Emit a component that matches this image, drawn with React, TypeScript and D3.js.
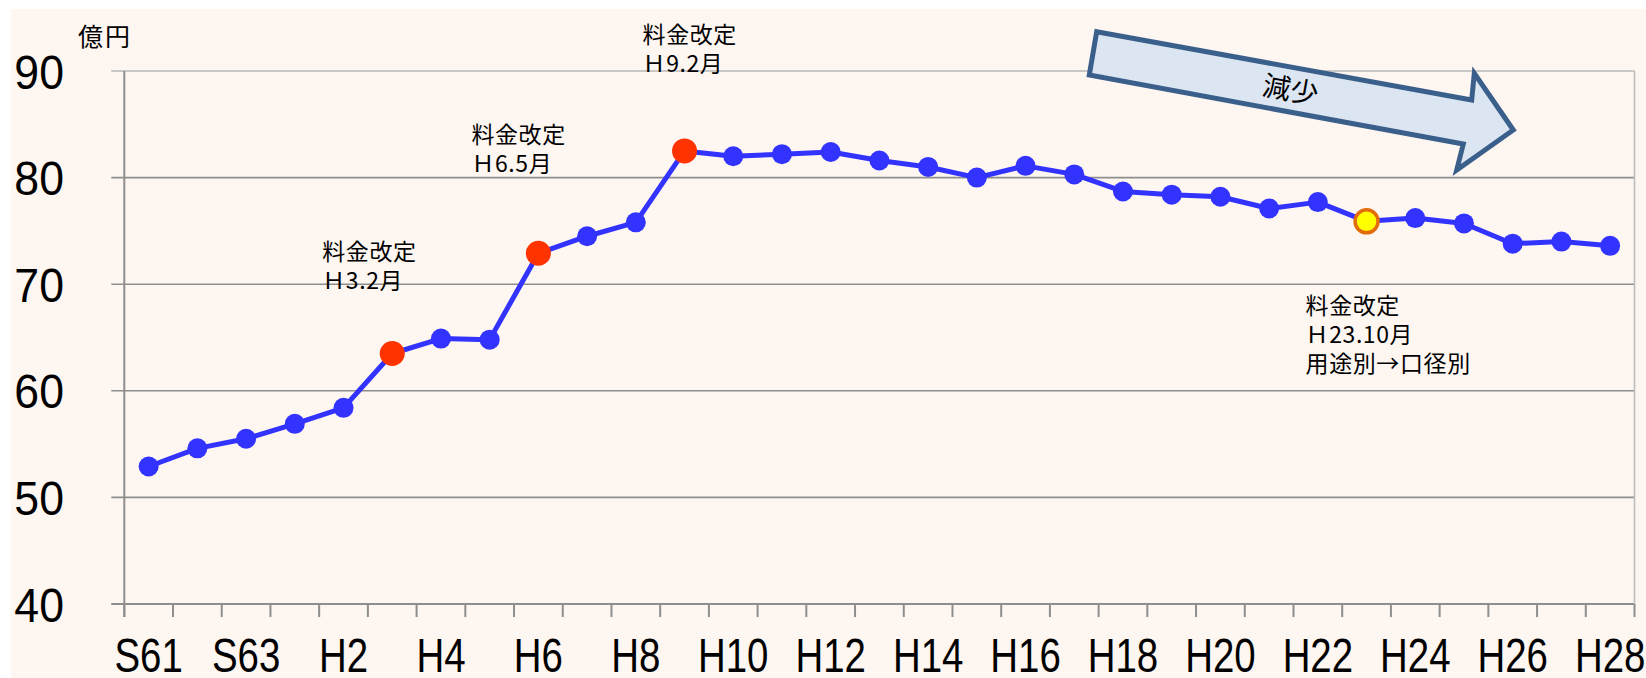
import React from "react";
import * as d3 from "d3";

const categories = [
  "S61", "S62", "S63", "H1", "H2", "H3", "H4", "H5", "H6", "H7", "H8", "H9", "H10",
  "H11", "H12", "H13", "H14", "H15", "H16", "H17", "H18", "H19", "H20", "H21", "H22",
  "H23", "H24", "H25", "H26", "H27", "H28",
];
const revenue = [
  52.9, 54.6, 55.5, 56.9, 58.4, 63.5, 64.9, 64.8, 72.9, 74.5, 75.8, 82.5, 82.0,
  82.2, 82.4, 81.6, 81.0, 80.0, 81.1, 80.3, 78.7, 78.4, 78.2, 77.1, 77.7,
  75.9, 76.2, 75.7, 73.8, 74.0, 73.6,
];
const yTicks = [40, 50, 60, 70, 80, 90];
const xLabelCats = categories.filter((_, i) => i % 2 === 0);
const redRevisions = ["H3", "H6", "H9"];
const yellowRevisions = ["H23"];
const annotations = [
  { cat: "H3", lines: ["料金改定", "Ｈ3.2月"], dx: -70, dy: -93 },
  { cat: "H6", lines: ["料金改定", "Ｈ6.5月"], dx: -67, dy: -110 },
  { cat: "H9", lines: ["料金改定", "Ｈ9.2月"], dx: -42, dy: -108 },
  { cat: "H23", lines: ["料金改定", "Ｈ23.10月", "用途別→口径別"], dx: -61, dy: 93 },
];
const unitLabel = "億円";
const arrowLabel = "減少";

const W = 1646;
const H = 678;
const left = 124.3;
const right = 1634.5;
const top = 71;
const bottom = 604;

export default function App() {
  const x = d3.scaleBand<string>().domain(categories).range([left, right]).padding(0);
  const y = d3.scaleLinear().domain([40, 90]).range([bottom, top]);
  const cx = (c: string) => (x(c) as number) + x.bandwidth() / 2;
  const line = d3
    .line<number>()
    .x((_, i) => cx(categories[i]))
    .y((d) => y(d));

  const arrowPts: [number, number][] = [
    [1096.7, 31.7],
    [1471.7, 100],
    [1474.3, 73.3],
    [1513.3, 130],
    [1456.7, 170],
    [1463.3, 144],
    [1089.3, 75],
  ];
  const angle = (Math.atan2(100 - 31.7, 1471.7 - 1096.7) * 180) / Math.PI;

  const boundaries = d3.range(categories.length + 1).map((i) => left + i * x.bandwidth());
  const cjk = "'Noto Sans CJK JP', 'Noto Sans CJK SC', sans-serif";
  const latin = "'Liberation Sans', Arial, sans-serif";

  return (
    <svg
      width={W}
      height={H}
      style={{ position: "absolute", left: 0, top: 0, display: "block" }}
    >
      <rect x={0} y={0} width={W} height={H} fill="#ffffff" />
      <rect x={11} y={9} width={W - 11} height={H - 9} fill="#fdf6f1" />

      {/* gridlines */}
      {yTicks.map((t) => (
        <line
          key={t}
          x1={left - 13}
          x2={right}
          y1={y(t)}
          y2={y(t)}
          stroke={t === 90 ? "#b8b8b8" : "#8e8e8e"}
          strokeWidth={t === 40 ? 2 : 1.6}
        />
      ))}
      {/* right border */}
      <line x1={right} x2={right} y1={top} y2={bottom} stroke="#bdbdbd" strokeWidth={1.6} />
      {/* left axis */}
      <line x1={left} x2={left} y1={top} y2={bottom + 13} stroke="#8e8e8e" strokeWidth={2} />
      {/* x ticks */}
      {boundaries.map((bx, i) => (
        <line key={i} x1={bx} x2={bx} y1={bottom} y2={bottom + 13} stroke="#8e8e8e" strokeWidth={2} />
      ))}

      {/* y tick labels */}
      {yTicks.map((t) => (
        <text
          key={t}
          transform={`translate(64, ${y(t) + 17.5}) scale(0.93, 1)`}
          textAnchor="end"
          fontFamily={latin}
          fontSize={48}
          fill="#000"
        >
          {t}
        </text>
      ))}
      {/* x labels */}
      {xLabelCats.map((c) => (
        <text
          key={c}
          transform={`translate(${cx(c)}, 672) scale(0.8, 1)`}
          textAnchor="middle"
          fontFamily={latin}
          fontSize={48}
          fill="#000"
        >
          {c}
        </text>
      ))}

      <text x={78} y={46} fontFamily={cjk} fontSize={25} letterSpacing={2} fill="#000">
        {unitLabel}
      </text>

      {/* arrow */}
      <polygon
        points={arrowPts.map((p) => p.join(",")).join(" ")}
        fill="#dce6f2"
        stroke="#3b5f8b"
        strokeWidth={5}
        strokeLinejoin="miter"
      />
      <text
        transform={`translate(1291, 88) rotate(${angle})`}
        textAnchor="middle"
        dominantBaseline="central"
        fontFamily={cjk}
        fontSize={28}
        fill="#000"
      >
        {arrowLabel}
      </text>

      {/* series */}
      <path d={line(revenue) as string} fill="none" stroke="#3333ff" strokeWidth={5} strokeLinejoin="round" />
      {revenue.map((v, i) => {
        const c = categories[i];
        if (redRevisions.includes(c)) {
          return <circle key={c} cx={cx(c)} cy={y(v)} r={12.5} fill="#ff3300" />;
        }
        if (yellowRevisions.includes(c)) {
          return (
            <circle key={c} cx={cx(c)} cy={y(v)} r={11.5} fill="#ffff00" stroke="#e36c0a" strokeWidth={3.5} />
          );
        }
        return <circle key={c} cx={cx(c)} cy={y(v)} r={10} fill="#3333ff" />;
      })}

      {/* annotations */}
      {annotations.map((a) => {
        const i = categories.indexOf(a.cat);
        const ax = cx(a.cat) + a.dx;
        const ay = y(revenue[i]) + a.dy;
        return (
          <text key={a.cat} fontFamily={cjk} fontSize={23} letterSpacing={0.6} fill="#000">
            {a.lines.map((l, k) => (
              <tspan key={k} x={ax} y={ay + k * 29}>
                {l}
              </tspan>
            ))}
          </text>
        );
      })}
    </svg>
  );
}
